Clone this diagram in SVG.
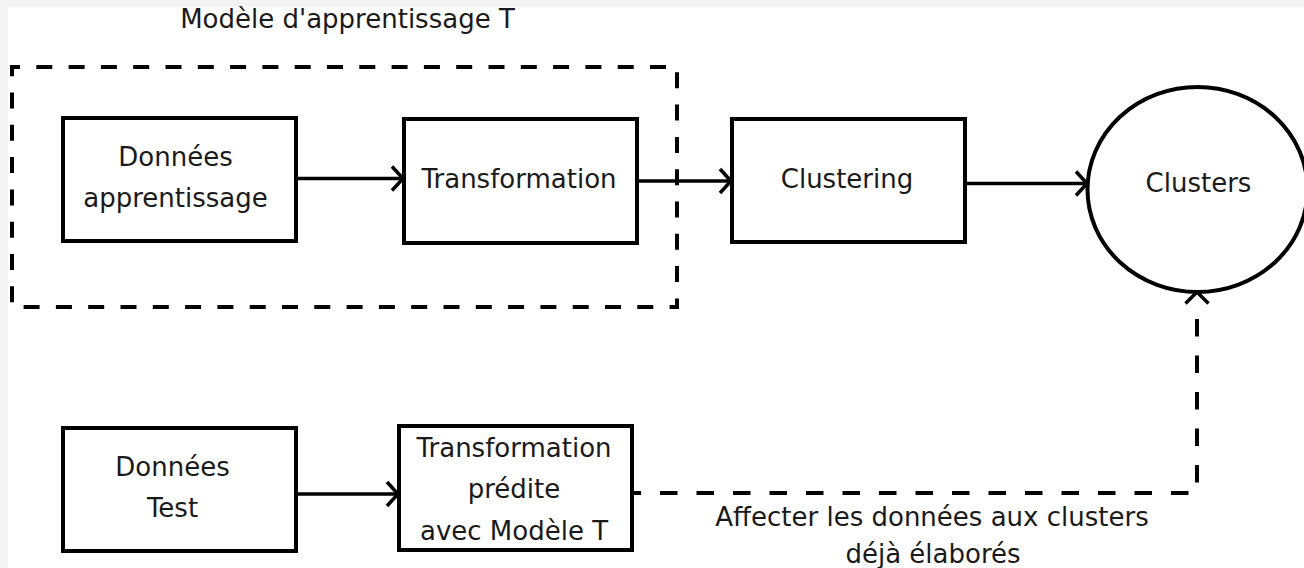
<svg xmlns="http://www.w3.org/2000/svg" width="1304" height="568" viewBox="0 0 1304 568">
  <defs>
    <style>
      .box { fill: #ffffff; stroke: #000000; stroke-width: 4; }
      .lbl { font-family: "DejaVu Sans", "Liberation Sans", sans-serif; font-size: 26px; fill: #1a1a1a; text-anchor: middle; }
      .edge { fill: none; stroke: #000000; stroke-width: 3.5; }
      .dash { fill: none; stroke: #000000; stroke-width: 4; }
    </style>
    <marker id="chev" markerUnits="userSpaceOnUse" markerWidth="30" markerHeight="30" viewBox="-15 -15 30 30" refX="0" refY="0" orient="auto" overflow="visible">
      <path d="M-11,-12 L0,0 L-11,12" fill="none" stroke="#000000" stroke-width="3.5" stroke-dasharray="none"/>
    </marker>
  </defs>

  <rect x="0" y="0" width="1304" height="568" fill="#f3f3f3"/>
  <rect x="8" y="7" width="1296" height="561" fill="#ffffff"/>

  <g id="title">
    <text class="lbl" x="347.5" y="27.5">Modèle d'apprentissage T</text>
  </g>

  <g id="group-modele">
    <path class="dash" d="M12,67 H677 V307 H12 Z" stroke-dasharray="16 16.3" stroke-dashoffset="8"/>
  </g>

  <g id="connectors">
    <line class="edge" x1="296" y1="178.5" x2="403" y2="178.5" marker-end="url(#chev)"/>
    <line class="edge" x1="637" y1="181" x2="731" y2="181" marker-end="url(#chev)"/>
    <line class="edge" x1="967" y1="183.5" x2="1087" y2="183.5" marker-end="url(#chev)"/>
    <line class="edge" x1="296" y1="494" x2="398" y2="494" marker-end="url(#chev)"/>
    <path class="dash" d="M632,493 H1197 V303" stroke-dasharray="17.5 19" stroke-dashoffset="8.5"/>
    <path d="M1185.5,303.5 L1197,292 L1208.5,303.5" fill="none" stroke="#000000" stroke-width="3.5"/>
  </g>

  <g id="node-donnees-apprentissage">
    <rect class="box" x="63" y="118" width="233" height="123"/>
    <text class="lbl" x="175.5" y="166">Données</text>
    <text class="lbl" x="175.5" y="207">apprentissage</text>
  </g>

  <g id="node-transformation">
    <rect class="box" x="404" y="119" width="233" height="124"/>
    <text class="lbl" x="519" y="188">Transformation</text>
  </g>

  <g id="node-clustering">
    <rect class="box" x="732" y="119" width="233" height="123"/>
    <text class="lbl" x="847" y="188">Clustering</text>
  </g>

  <g id="node-clusters">
    <ellipse cx="1197.5" cy="189.5" rx="110" ry="102.5" fill="#ffffff" stroke="#000000" stroke-width="4"/>
    <text class="lbl" x="1198.5" y="192">Clusters</text>
  </g>

  <g id="node-donnees-test">
    <rect class="box" x="63" y="428" width="233" height="123"/>
    <text class="lbl" x="172.5" y="476">Données</text>
    <text class="lbl" x="172.5" y="517">Test</text>
  </g>

  <g id="node-transformation-predite">
    <rect class="box" x="399" y="426" width="233" height="124"/>
    <text class="lbl" x="514" y="457">Transformation</text>
    <text class="lbl" x="514" y="498">prédite</text>
    <text class="lbl" x="514" y="540">avec Modèle T</text>
  </g>

  <g id="label-affecter">
    <text class="lbl" x="932" y="526">Affecter les données aux clusters</text>
    <text class="lbl" x="933" y="563">déjà élaborés</text>
  </g>
</svg>
